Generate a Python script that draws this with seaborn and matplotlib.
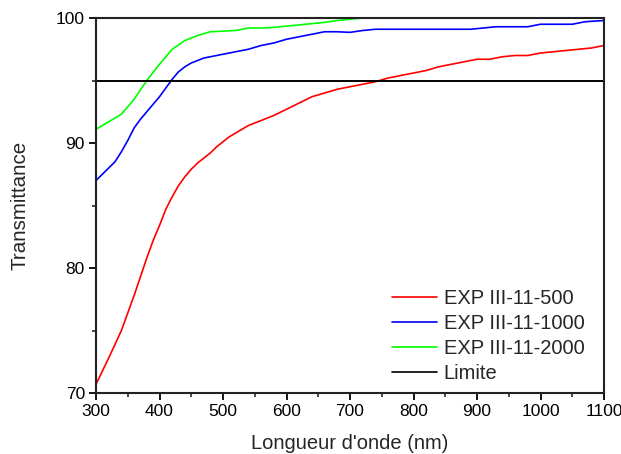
import numpy as np
import pandas as pd
import matplotlib
matplotlib.use("Agg")
import matplotlib.pyplot as plt
import seaborn as sns
from matplotlib.ticker import MultipleLocator

# ---- data ----
red_x = [300, 320, 340, 360, 380, 390, 400, 410, 420, 430, 440, 450, 460, 470, 480, 490,
         500, 510, 520, 530, 540, 560, 580, 600, 620, 640, 660, 680, 700, 720, 740, 760,
         780, 800, 820, 840, 860, 880, 900, 920, 940, 960, 980, 1000, 1020, 1040, 1060, 1080, 1100]
red_y = [70.7, 72.8, 75.0, 77.8, 80.8, 82.2, 83.4, 84.7, 85.7, 86.6, 87.3, 87.9, 88.4, 88.8, 89.2, 89.7,
         90.1, 90.5, 90.8, 91.1, 91.4, 91.8, 92.2, 92.7, 93.2, 93.7, 94.0, 94.3, 94.5, 94.7, 94.9, 95.2,
         95.4, 95.6, 95.8, 96.1, 96.3, 96.5, 96.7, 96.7, 96.9, 97.0, 97.0, 97.2, 97.3, 97.4, 97.5, 97.6, 97.8]

blue_x = [300, 310, 320, 330, 340, 350, 360, 370, 380, 390, 400, 410, 420, 430, 440, 450, 460, 470,
          480, 500, 520, 540, 560, 580, 600, 620, 640, 660, 680, 700, 720, 740, 800, 890, 910, 930,
          980, 1000, 1050, 1070, 1100]
blue_y = [87.0, 87.5, 88.0, 88.5, 89.3, 90.2, 91.2, 91.9, 92.5, 93.1, 93.7, 94.4, 95.1, 95.7, 96.1, 96.4, 96.6, 96.8,
          96.9, 97.1, 97.3, 97.5, 97.8, 98.0, 98.3, 98.5, 98.7, 98.9, 98.9, 98.85, 99.0, 99.1, 99.1, 99.1, 99.2, 99.3,
          99.3, 99.5, 99.5, 99.7, 99.8]

green_x = [300, 320, 340, 360, 380, 400, 420, 440, 460, 480, 500, 520, 540, 560, 580, 600, 620, 640,
           660, 680, 700, 720, 760, 800, 900, 1000, 1100]
green_y = [91.1, 91.7, 92.3, 93.5, 95.0, 96.3, 97.5, 98.2, 98.6, 98.9, 98.95, 99.0, 99.2, 99.2, 99.25, 99.35, 99.45, 99.55,
           99.65, 99.8, 99.9, 100.0, 100.3, 100.4, 100.5, 100.6, 100.7]

limit_x = [300, 1100]
limit_y = [95, 95]

labels = ["EXP III-11-500", "EXP III-11-1000", "EXP III-11-2000", "Limite"]
colors = ["#FF0000", "#0000FF", "#00FF00", "#000000"]

df = pd.concat([
    pd.DataFrame({"x": red_x, "y": red_y, "s": labels[0]}),
    pd.DataFrame({"x": blue_x, "y": blue_y, "s": labels[1]}),
    pd.DataFrame({"x": green_x, "y": green_y, "s": labels[2]}),
    pd.DataFrame({"x": limit_x, "y": limit_y, "s": labels[3]}),
], ignore_index=True)

sns.set_style("ticks")
plt.rcParams["font.family"] = ["Liberation Sans", "DejaVu Sans"]

fig = plt.figure(figsize=(6.21, 4.54), dpi=100)
ax = fig.add_axes([96/621, 1-393/454, 508/621, 375/454])

sns.lineplot(data=df, x="x", y="y", hue="s", hue_order=labels,
             palette=dict(zip(labels, colors)), ax=ax, linewidth=1.2,
             sort=True, estimator=None, legend=True)
ax.lines[3].set_linewidth(1.4)

ax.set_xlim(300, 1100)
ax.set_ylim(70, 100)
ax.xaxis.set_major_locator(MultipleLocator(100))
ax.xaxis.set_minor_locator(MultipleLocator(50))
ax.yaxis.set_major_locator(MultipleLocator(10))
ax.yaxis.set_minor_locator(MultipleLocator(5))
ax.tick_params(axis="both", which="major", direction="out", length=5, width=1.3,
               labelsize=12.5, colors="black", pad=3)
ax.tick_params(axis="both", which="minor", direction="out", length=3, width=1.2)
ax.tick_params(top=False, right=False)

for sp in ax.spines.values():
    sp.set_visible(True)
    sp.set_linewidth(1.5)
    sp.set_color("#222222")
    sp.set_zorder(5)

ax.set_xlabel("Longueur d'onde (nm)", fontsize=14.5, labelpad=11)
ax.set_ylabel("Transmittance", fontsize=14.8, labelpad=19)

leg = ax.legend(loc="upper left", bbox_to_anchor=(0.583, 0.277), frameon=False,
                fontsize=14.5, handlelength=2.25, handletextpad=0.3,
                labelspacing=0.3, borderpad=0, borderaxespad=0)
for h in leg.get_lines():
    h.set_linewidth(1.2)

fig.savefig("out.png", dpi=100)
